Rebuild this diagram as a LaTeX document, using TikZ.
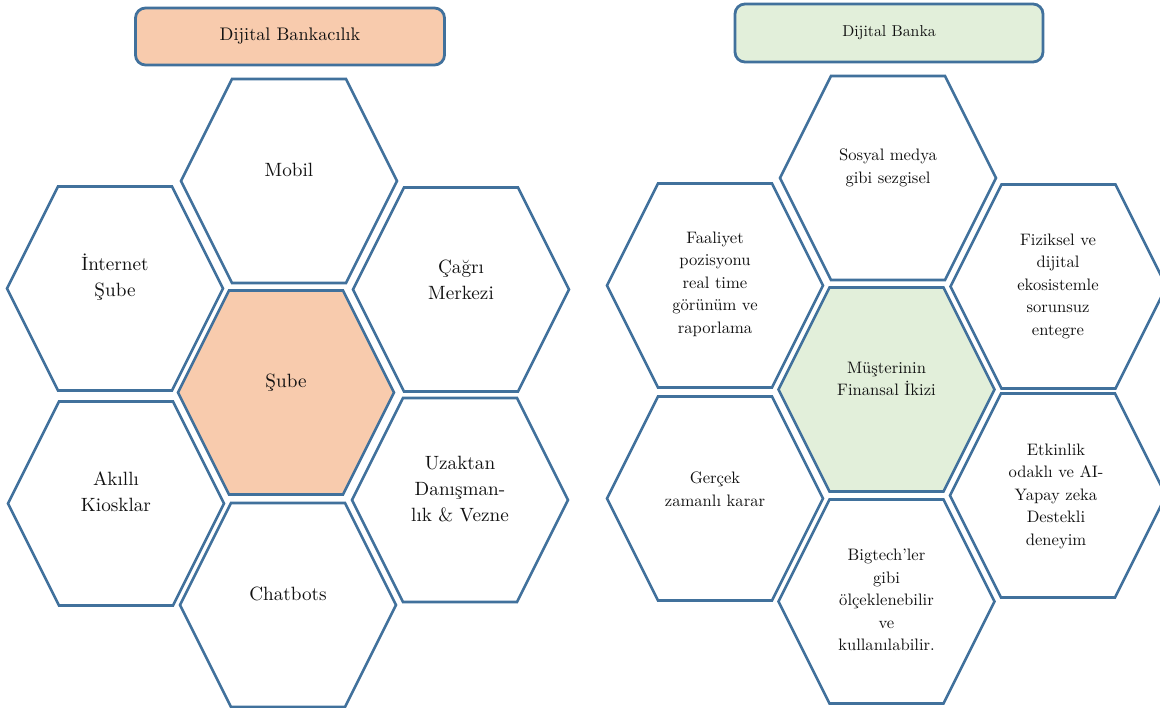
\documentclass[tikz,border=0pt]{standalone}
\usepackage{fontspec}
\setmainfont{lmroman10-regular.otf}
\definecolor{hexblue}{HTML}{41719C}
\definecolor{peach}{HTML}{F8CBAD}
\definecolor{mint}{HTML}{E2EFDA}
\definecolor{ink}{HTML}{111111}
\tikzset{
  hexa/.style={draw=hexblue, line width=2.6pt, line join=miter},
  lbl/.style={align=center, text=ink, inner sep=0pt, font=\fontsize{19.2}{26}\selectfont},
  rlbl/.style={align=center, text=ink, inner sep=0pt, font=\fontsize{16.6}{22.5}\selectfont},
  titlebox/.style={draw=hexblue, line width=2.8pt, rounded corners=10pt, text=ink, inner sep=0pt},
}
\newcommand{\hexcell}[3]{%
  \draw[hexa, fill=#3, shift={(#1,#2)}] (-108,0) -- (-57,-102) -- (57,-102) -- (108,0) -- (57,102) -- (-57,102) -- cycle;}
\begin{document}
\begin{tikzpicture}[x=1pt, y=-1pt]
\useasboundingbox (0,0) rectangle (1160,708);
\fill[white] (0,0) rectangle (1160,708);
\clip (0,0) rectangle (1160,708);

% titles
\node[titlebox, fill=peach, minimum width=309pt, minimum height=57pt, font=\fontsize{18.2}{24}\selectfont] (t1) at (290,36.5) {Dijital Bankacılık};
\node[titlebox, fill=mint, minimum width=308pt, minimum height=58pt, font=\fontsize{15.8}{22}\selectfont] (t2) at (889,33) {Dijital Banka};

% left cluster
\hexcell{289}{181}{white}
\hexcell{115}{288.5}{white}
\hexcell{461}{289.5}{white}
\hexcell{286}{392.5}{peach}
\hexcell{116}{503.5}{white}
\hexcell{460}{500}{white}
\hexcell{288}{605}{white}

\node[lbl] (mobil) at (289,170) {Mobil};
\node[lbl] (internet) at (115,277.5) {İnternet\\Şube};
\node[lbl] (cagri) at (461,279.5) {Çağrı\\Merkezi};
\node[lbl] (sube) at (286,383) {Şube};
\node[lbl] (akilli) at (116,492) {Akıllı\\Kiosklar};
\node[lbl] (uzaktan) at (460,489) {Uzaktan\\Danışman-\\lık \& Vezne};
\node[lbl] (chatbots) at (288,594) {Chatbots};

% right cluster
\hexcell{888}{178}{white}
\hexcell{715}{285.5}{white}
\hexcell{1058.5}{286.5}{white}
\hexcell{886.5}{389.5}{mint}
\hexcell{715}{498.5}{white}
\hexcell{1058}{495.5}{white}
\hexcell{886.5}{601.5}{white}

\node[rlbl] (sosyal) at (888,168) {Sosyal medya\\gibi sezgisel};
\node[rlbl] (faaliyet) at (715,284) {Faaliyet\\pozisyonu\\real time\\görünüm ve\\raporlama};
\node[rlbl] (fiziksel) at (1058,286) {Fiziksel ve\\dijital\\ekosistemle\\sorunsuz\\entegre};
\node[rlbl] (musteri) at (886.5,379) {Müşterinin\\Finansal İkizi};
\node[rlbl] (gercek) at (715,489) {Gerçek\\zamanlı karar};
\node[rlbl] (etkinlik) at (1056,496) {Etkinlik\\odaklı ve AI-\\Yapay zeka\\Destekli\\deneyim};
\node[rlbl] (bigtech) at (886.5,600) {Bigtech’ler\\gibi\\ölçeklenebilir\\ve\\kullanılabilir.};
\end{tikzpicture}
\end{document}
